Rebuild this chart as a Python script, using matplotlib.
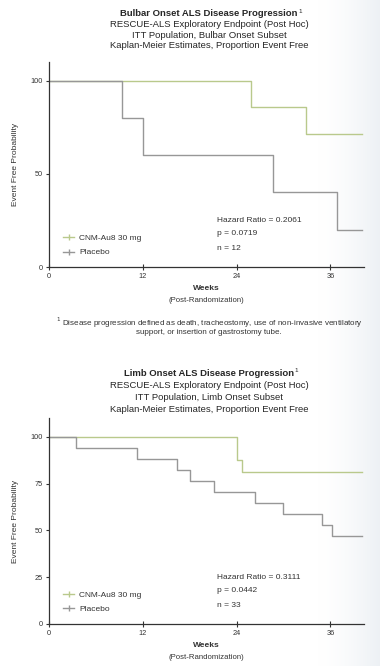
import numpy as np
import matplotlib.pyplot as plt
from matplotlib.lines import Line2D

plt.rcParams['font.family'] = ['Liberation Sans', 'DejaVu Sans']

# Bulbar onset subset (weeks, % event free)
bulbar_cnm_weeks = [0, 25.9, 32.9, 40]
bulbar_cnm_pct = [100, 85.7, 71.4, 71.4]
bulbar_pbo_weeks = [0, 9.3, 12.0, 28.7, 36.9, 40]
bulbar_pbo_pct = [100, 80, 60, 40, 20, 20]

# Limb onset subset
limb_cnm_weeks = [0, 24.0, 24.7, 40]
limb_cnm_pct = [100, 87.5, 81.25, 81.25]
limb_pbo_weeks = [0, 3.5, 11.3, 16.4, 18.0, 21.1, 26.4, 30.0, 34.9, 36.2, 40]
limb_pbo_pct = [100, 94.1, 88.2, 82.4, 76.5, 70.6, 64.7, 58.8, 52.9, 47.1, 47.1]

week_ticks = [0, 12, 24, 36]
labels = ['CNM-Au8 30 mg', 'Placebo']

green = '#b9c98c'
gray = '#979797'
txt = '#333333'

W, H = 380, 666
fig = plt.figure(figsize=(W / 100, H / 100), dpi=100)

# faint backdrop shading on the right edge
bg = fig.add_axes([0, 0, 1, 1], zorder=-5)
grad = np.clip((np.linspace(0, 1, 200) - 0.84) / 0.16, 0, 1) ** 1.5
img = np.ones((2, 200, 3))
for i, c in enumerate([0.93, 0.945, 0.96]):
    img[:, :, i] = 1 - grad * (1 - c)
bg.imshow(img, aspect='auto', extent=[0, 1, 0, 1])
bg.axis('off')


def fy(py):
    return 1 - py / H


def titles(ys, first):
    lines = [first,
             'RESCUE-ALS Exploratory Endpoint (Post Hoc)',
             'ITT Population, ' + first.split(' ALS')[0] + ' Subset',
             'Kaplan-Meier Estimates, Proportion Event Free']
    for i, (t, y) in enumerate(zip(lines, ys)):
        t_ = fig.text(209 / W, fy(y), t, ha='center', va='center',
                      fontsize=6.8, fontweight='bold' if i == 0 else 'normal',
                      color='#262626')
    # small superscript footnote marker after the bold heading
    fig.canvas.draw()
    bb = fig.texts[-4].get_window_extent()
    fig.text(bb.x1 / W + 0.002, fy(ys[0] - 2.5), '1', ha='left', va='center',
             fontsize=4.5, color='#262626')


def km_panel(top, bottom, cw, cp, pw, pp, yticks, hr, p, n):
    ax = fig.add_axes([49 / W, fy(bottom), 315 / W, (bottom - top) / H])
    ax.set_facecolor('none')
    ax.step(cw, cp, where='post', color=green, lw=1.0)
    ax.step(pw, pp, where='post', color=gray, lw=1.0)
    ax.set_xlim(0, 40.3)
    ax.set_ylim(0, 110)
    ax.set_xticks(week_ticks)
    ax.set_yticks(yticks)
    ax.spines[['top', 'right']].set_visible(False)
    for s in ('left', 'bottom'):
        ax.spines[s].set_linewidth(0.9)
        ax.spines[s].set_color(txt)
    ax.tick_params(axis='x', direction='inout', length=4, width=0.8,
                   labelsize=5.3, pad=2, colors=txt)
    ax.tick_params(axis='y', direction='out', length=2.5, width=0.8,
                   labelsize=5.3, pad=2, colors=txt)
    ax.set_ylabel('Event Free Probability', fontsize=6, color=txt, labelpad=8)
    ax.set_xlabel('Weeks', fontsize=6, fontweight='bold', color=txt, labelpad=4)
    ax.text(0.5, -0.165, '(Post-Randomization)', transform=ax.transAxes,
            ha='center', va='center', fontsize=5.6, color=txt)
    ys = [0.225, 0.163, 0.09]
    for t, y in zip(['Hazard Ratio = ' + hr, 'p = ' + p, 'n = ' + n], ys):
        ax.text(0.533, y, t, transform=ax.transAxes, ha='left', va='center',
                fontsize=6, color=txt)
    handles = [Line2D([], [], color=green, lw=1.0, marker='|', ms=4),
               Line2D([], [], color=gray, lw=1.0, marker='|', ms=4)]
    ax.legend(handles, labels, loc='lower left', bbox_to_anchor=(0.02, 0.015),
              frameon=False, fontsize=6, handlelength=1.4, handletextpad=0.6,
              labelspacing=0.75, labelcolor=txt)
    return ax


titles([14, 24.5, 35, 45.5], 'Bulbar Onset ALS Disease Progression')
km_panel(62, 267, bulbar_cnm_weeks, bulbar_cnm_pct, bulbar_pbo_weeks, bulbar_pbo_pct,
         [0, 50, 100], '0.2061', '0.0719', '12')

fig.text(209 / W, fy(323), r'$^{1}$ Disease progression defined as death, tracheostomy, '
         'use of non-invasive ventilatory', ha='center', va='center',
         fontsize=5.8, color=txt)
fig.text(209 / W, fy(333), 'support, or insertion of gastrostomy tube.',
         ha='center', va='center', fontsize=5.8, color=txt)

titles([373, 385, 397, 409.5], 'Limb Onset ALS Disease Progression')
km_panel(418, 624, limb_cnm_weeks, limb_cnm_pct, limb_pbo_weeks, limb_pbo_pct,
         [0, 25, 50, 75, 100], '0.3111', '0.0442', '33')

fig.savefig('out.png', dpi=100)
